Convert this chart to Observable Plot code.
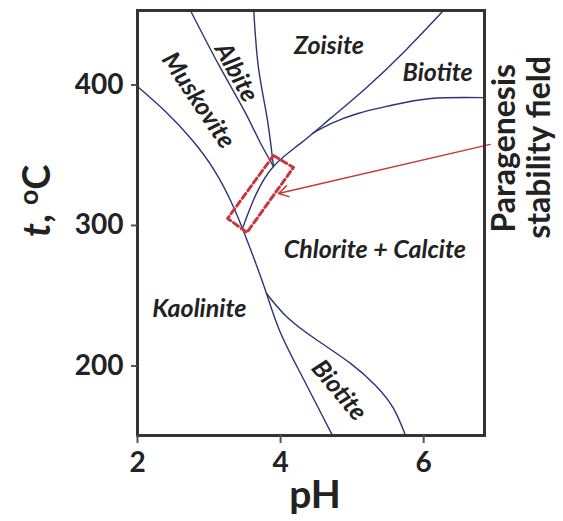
<!DOCTYPE html>
<html><head><meta charset="utf-8">
<script src="https://cdn.jsdelivr.net/npm/d3@7"></script>
<script src="https://cdn.jsdelivr.net/npm/@observablehq/plot@0.6"></script>
<style>body{margin:0;background:#fff;}</style>
</head><body><div id="chart"></div>
<script>
// Phase boundaries [pH, t °C], ordered by increasing pH
const kaoliniteLine = [[2.0,398.9],[2.391,381.1],[2.769,360.5],[3.076,339.1],[3.30,317.8],[3.467,297.9],[3.649,273.7],[3.803,251.6],[3.985,225.3],[4.236,198.9],[4.474,175.4],[4.725,150.5]];
const lowerBiotiteLine = [[3.803,251.6],[4.096,234.5],[4.516,218.1],[4.977,201.8],[5.327,186.1],[5.578,169.8],[5.746,150.5]];
const muskAlbiteLine = [[2.74,453],[3.14,413.9],[3.49,381.9],[3.70,360.5],[3.90,342]];
const albiteZoisiteLine = [[3.625,453],[3.69,412.5],[3.81,376.9],[3.90,342]];
const zoisiteLine = [[3.467,297.9],[3.65,321.4],[3.90,342],[4.278,358.4],[4.697,376.2],[5.187,397.5],[5.746,424.6],[6.277,453]];
const upperBiotiteLine = [[4.446,365.5],[4.71,372.6],[5.08,379.7],[5.54,385.4],[6.10,390.4],[6.85,391]];
// Paragenesis stability field (dashed box) and arrow
const fieldBox = [[3.90,349.8],[4.18,341.3],[3.53,295.0],[3.26,305.0],[3.90,349.8]];
const arrowFrom = [6.93,357.7];
const arrowTo = [3.97,322.8];
// Region labels
const regionNames = ["Zoisite","Biotite","Albite","Muskovite","Chlorite + Calcite","Kaolinite","Biotite"];
const regionPH = [4.676,6.195,3.38,2.85,5.317,2.864,4.815];
const regionT = [427.4,408.2,408.9,389.0,282.2,240.2,182.6];
const regionAngle = [0,0,61,56,0,0,50];
// Axes
const xTicks = [2,4,6];
const yTicks = [200,300,400];
const xLabel = "pH";
const yLabel = "t, °C";
const sideLines = ["Paragenesis","stability field"];
const sidePH = [7.14,7.62];
const sideT = [355,355.5];

const lineColor = "#2e3379";
const redColor = "#c8383a";
const labels = regionNames.map((n,i)=>({n, x:regionPH[i], y:regionT[i], r:regionAngle[i]}));
const side = sideLines.map((n,i)=>({n, x:sidePH[i], y:sideT[i]}));
const curve = (arr) => Plot.line(arr, {x:d=>d[0], y:d=>d[1], stroke:lineColor, strokeWidth:1.4, curve:"natural", clip:true});

const chart = Plot.plot({
  width:563, height:521,
  marginLeft:137, marginRight:79, marginTop:10, marginBottom:86,
  style:{fontFamily:"Lato, sans-serif", fontWeight:"bold", color:"#222", background:"#fff", overflow:"visible"},
  x:{domain:[2,6.85]},
  y:{domain:[150.5,453]},
  marks:[
    curve(kaoliniteLine),
    curve(lowerBiotiteLine),
    curve(muskAlbiteLine),
    curve(albiteZoisiteLine),
    curve(zoisiteLine),
    curve(upperBiotiteLine),
    Plot.line(fieldBox, {x:d=>d[0], y:d=>d[1], stroke:redColor, strokeWidth:3, strokeDasharray:"6,3.5", strokeLinejoin:"round"}),
    Plot.arrow([{a:arrowFrom,b:arrowTo}], {x1:d=>d.a[0], y1:d=>d.a[1], x2:d=>d.b[0], y2:d=>d.b[1], stroke:redColor, strokeWidth:1.5, headLength:11, bend:0}),
    Plot.text(labels, {x:"x", y:"y", text:"n", rotate:"r", fontSize:25, fontStyle:"italic", fill:"#222"}),
    Plot.frame({stroke:"#333", strokeWidth:3}),
    Plot.axisX({ticks:xTicks, tickFormat:d=>String(d), tickSize:8, tickPadding:9, fontSize:28, label:null, stroke:"#555", strokeWidth:2}),
    Plot.axisY({ticks:yTicks, tickFormat:d=>String(d), tickSize:6, tickPadding:8, fontSize:28, label:null, stroke:"#555", strokeWidth:2}),
    Plot.text([xLabel], {frameAnchor:"bottom", dy:72, dx:4, fontSize:39, fill:"#222"}),
    Plot.text([yLabel], {frameAnchor:"left", dx:-100, dy:14, rotate:-90, fontSize:38, fill:"#222"}),
    Plot.text(side, {x:"x", y:"y", text:"n", rotate:-90, fontSize:32, fill:"#222"})
  ]
});
document.getElementById("chart").appendChild(chart);
// style the y-axis label: italic t, superscript o
d3.select(chart).selectAll("text").filter(function(){return this.textContent===yLabel;}).each(function(){
  const t = d3.select(this);
  t.text(null);
  t.append("tspan").attr("font-style","italic").text("t");
  t.append("tspan").text(", ");
  t.append("tspan").attr("font-size","0.7em").attr("dy","-0.45em").text("o");
  t.append("tspan").attr("dy","0.32em").text("C");
});
</script>
</body></html>
